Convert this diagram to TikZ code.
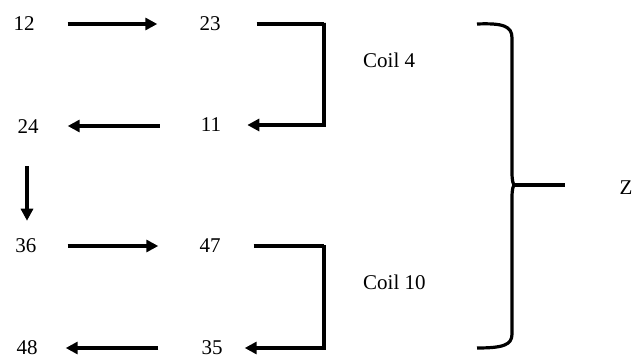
\documentclass[tikz,border=0pt]{standalone}
\usepackage{fontspec}
\setmainfont{Liberation Serif}
\usetikzlibrary{arrows.meta}
\begin{document}
\begin{tikzpicture}[x=1pt,y=-1pt,
  num/.style={inner sep=0pt,font=\fontsize{21}{24}\selectfont},
  lab/.style={inner sep=0pt,anchor=west,font=\fontsize{21}{24}\selectfont},
  wire/.style={line width=3.2pt},
  arr/.style={wire,-{Triangle[length=12pt,width=12pt]}},
  brace/.style={line width=3.2pt,line join=round}]
\useasboundingbox (0,0) rectangle (634,358);
% values
\node[num] (n12) at (24,24)  {12};
\node[num] (n23) at (210,24) {23};
\node[num] (n24) at (28,127) {24};
\node[num] (n11) at (211,125){11};
\node[num] (n36) at (26,246) {36};
\node[num] (n47) at (210,246){47};
\node[num] (n48) at (27,348) {48};
\node[num] (n35) at (212,348){35};
% coil labels and result
\node[lab] (c4)  at (363,60)  {Coil 4};
\node[lab] (c10) at (363,282) {Coil 10};
\node[num] (z)   at (626,188) {Z};
% corners of the coil loops
\coordinate (k1) at (324,23);
\coordinate (k2) at (324,245);
% first row
\draw[arr] ([xshift=33pt]n12.east) -- ([xshift=-42pt]n23.west);
\draw[arr] ([xshift=36pt]n23.east) -| (k1) |- ([xshift=26pt]n11.east);
\draw[arr] ([xshift=-41pt,yshift=-1pt]n11.west) -- ([xshift=29pt,yshift=1pt]n24.east);
\draw[arr] ([xshift=-1pt,yshift=-32pt]n24.south) -- ([xshift=1pt,yshift=18pt]n36.north);
% second row
\draw[arr] ([xshift=31pt]n36.east) -- ([xshift=-41pt]n47.west);
\draw[arr] ([xshift=33pt]n47.east) -| (k2) |- ([xshift=22pt]n35.east);
\draw[arr] ([xshift=-43pt]n35.west) -- ([xshift=28pt]n48.east);
% large brace gathering both coils
\coordinate (tip) at (515,185);
\coordinate (tipend) at (565,185);
\draw[brace] (477,24) .. controls (503,23) and (512,26) .. (512,38)
  -- (512,172) .. controls (512,181) and (513,185) .. (tip)
  .. controls (513,185) and (512,189) .. (512,198)
  -- (512,334) .. controls (512,345) and (503,348) .. (477,348);
\draw[brace] (tip) -- (tipend);
\end{tikzpicture}
\end{document}
